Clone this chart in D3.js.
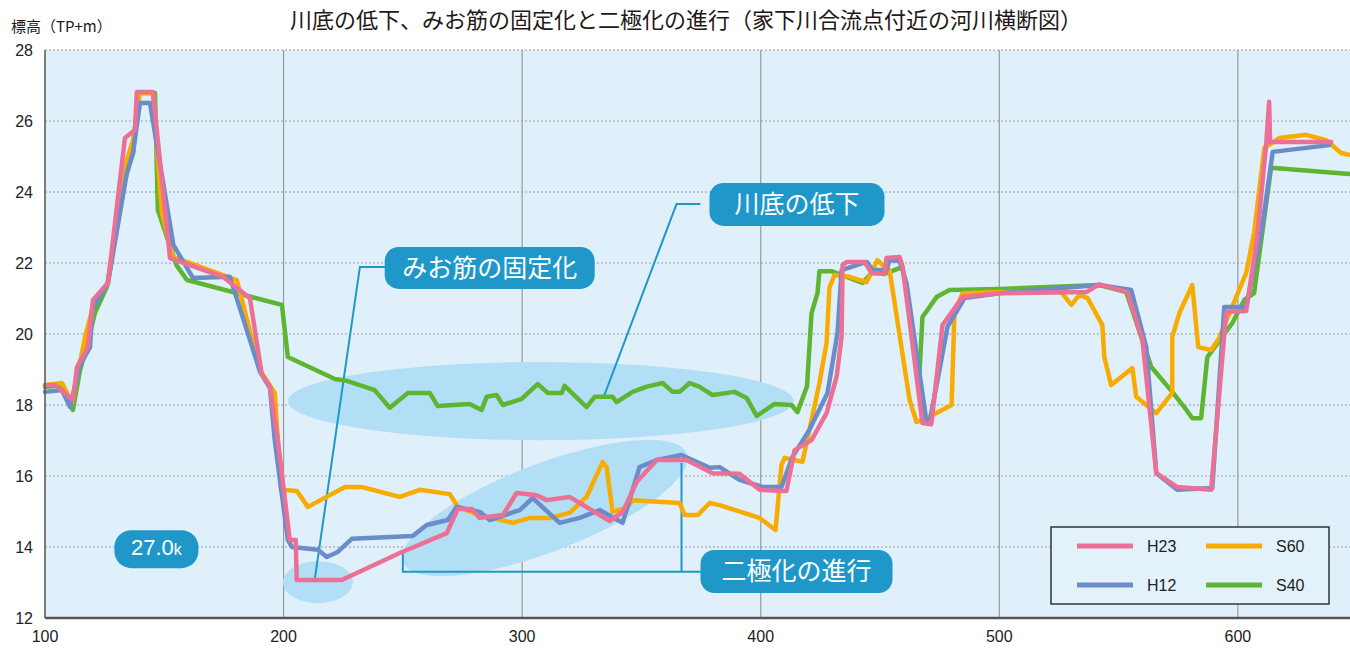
<!DOCTYPE html>
<html>
<head>
<meta charset="utf-8">
<script src="https://cdn.jsdelivr.net/npm/d3@7"></script>
<style>
  body { margin: 0; background: #fff; }
  svg { display: block; font-family: "Liberation Sans", Arial, sans-serif; }
  .jp { font-family: "Noto Sans CJK JP", sans-serif; }
</style>
</head>
<body>
<svg id="chart" width="1350" height="648"></svg>
<script>
// river cross section, distance (m) vs elevation (TP+m)
const h23 = [[100,18.56],[104.2,18.56],[111.7,18.14],[113.4,19.07],[118.0,19.63],[120.1,20.96],[126.4,21.44],[133.5,25.52],[137.7,25.75],[138.5,26.82],[145.2,26.82],[152.4,22.14],[174.6,21.61],[185.9,21.01],[190.9,18.85],[194.3,18.51],[197.6,17.01],[202.6,14.20],[205.1,14.20],[205.5,13.07],[224.4,13.07],[248.7,13.83],[268.4,14.39],[273.0,15.07],[278.9,15.07],[282.2,14.82],[291.9,14.90],[297.7,15.52],[306.1,15.46],[310.3,15.32],[319.9,15.41],[336.7,14.73],[342.2,14.99],[348.0,15.83],[356.4,16.45],[368.9,16.45],[379.8,16.08],[391.1,16.06],[399.5,15.61],[410.8,15.58],[414.2,16.73],[421.3,17.01],[427.6,17.77],[431.8,18.79],[433.9,19.92],[434.3,21.94],[436.0,22.03],[443.5,22.03],[446.5,21.72],[452.0,21.69],[452.7,22.14],[458.2,22.17],[459.5,21.89],[467.8,17.49],[471.5,17.46],[476.2,20.25],[484.6,21.04],[500.1,21.15],[536.5,21.18],[541.9,21.40],[553.7,21.18],[560.0,19.83],[565.8,16.08],[574.6,15.69],[588.8,15.61],[595.1,20.62],[603.5,20.65],[608.1,22.73],[611.9,25.38],[613.1,26.54],[613.5,25.41],[639.1,25.41]];

const h12 = [[100,18.37],[107.1,18.42],[110.5,17.94],[114.7,19.13],[118.9,19.63],[119.7,20.68],[126.4,21.44],[134.3,24.54],[136.9,25.10],[139.8,26.51],[144.0,26.51],[153.8,22.51],[162.0,21.58],[177.5,21.61],[190.1,18.94],[194.3,18.48],[196.3,17.01],[201.8,14.20],[203.5,14.0],[214.4,13.92],[218.1,13.72],[222.7,13.86],[228.6,14.23],[254.1,14.31],[260.0,14.62],[268.8,14.76],[272.6,15.13],[282.2,14.99],[286.4,14.76],[299.0,15.04],[304.4,15.38],[315.7,14.68],[324.1,14.82],[332.5,15.04],[342.1,14.68],[349.2,16.25],[356.4,16.45],[366.8,16.59],[378.6,16.23],[382.8,16.25],[391.1,15.89],[400.8,15.69],[408.7,15.69],[413.3,16.54],[420.4,17.30],[428.0,18.34],[432.2,20.03],[433.9,21.80],[444.4,22.03],[446.9,21.80],[452.7,21.80],[454.0,22.08],[458.2,22.06],[461.1,21.44],[469.5,17.52],[470.8,17.52],[478.3,20.20],[485.4,21.01],[500.1,21.15],[541.9,21.38],[555.3,21.24],[561.6,19.63],[565.8,16.08],[574.6,15.61],[589.3,15.66],[594.3,20.76],[603.5,20.76],[610.0,22.93],[614.6,25.13],[638.3,25.32]];

const s60 = [[100,18.56],[107.1,18.62],[111.3,18.06],[116.8,19.92],[120.9,20.96],[126.4,21.44],[134.3,24.90],[136.9,25.46],[139.8,26.79],[145.2,26.79],[149.0,23.41],[153.6,22.17],[180.4,21.52],[190.1,18.99],[196.3,18.34],[197.6,17.01],[198.9,15.61],[205.6,15.58],[210.2,15.13],[225.7,15.69],[232.8,15.69],[248.7,15.41],[257.1,15.61],[269.7,15.49],[273.0,15.13],[282.2,14.90],[296.1,14.68],[303.2,14.82],[311.5,14.82],[319.9,14.96],[327.0,15.41],[333.7,16.39],[335.4,16.25],[337.9,14.99],[343.8,15.10],[346.3,15.32],[366.0,15.24],[368.1,14.90],[373.6,14.90],[378.6,15.24],[382.8,15.18],[399.5,14.82],[406.2,14.48],[408.7,16.31],[410.0,16.51],[417.5,16.40],[421.3,17.58],[424.6,18.62],[427.6,19.75],[428.8,21.30],[430.9,21.66],[437.2,21.61],[444.3,21.46],[448.9,22.08],[451.9,21.89],[454.0,21.80],[462.4,18.14],[465.3,17.52],[469.5,17.63],[480.0,18.0],[481.2,20.59],[484.6,21.15],[500.1,21.18],[526.0,21.18],[530.2,20.82],[533.6,21.10],[537.0,21.01],[543.2,20.25],[544.0,19.35],[546.9,18.56],[555.8,19.04],[557.4,18.23],[565.8,17.77],[572.5,18.34],[572.5,19.92],[575.5,20.59],[580.9,21.38],[583.4,19.63],[588.8,19.55],[592.2,19.89],[603.5,21.72],[606.8,22.85],[611.1,25.24],[617.3,25.52],[628.6,25.61],[637.0,25.46],[643.3,25.10],[647,25.04]];

const s40 = [[100,18.51],[107.1,18.56],[111.7,17.86],[114.7,18.99],[118.0,19.75],[120.9,20.59],[125.9,21.32],[133.5,24.34],[136.9,25.10],[139.0,26.79],[146.1,26.79],[147.3,23.49],[155.1,21.94],[159.5,21.52],[199.3,20.82],[201.8,19.35],[221.5,18.73],[226.5,18.68],[238.2,18.42],[244.5,17.92],[252.1,18.34],[261.3,18.34],[264.6,17.97],[278.0,18.03],[283.0,17.86],[285.1,18.23],[289.3,18.28],[291.9,18.0],[299.8,18.17],[306.5,18.59],[310.7,18.34],[316.6,18.34],[317.8,18.54],[327.0,17.94],[330.4,18.23],[337.9,18.23],[339.6,18.08],[346.3,18.37],[351.9,18.51],[358.9,18.62],[363.1,18.37],[366.0,18.37],[370.2,18.62],[374.4,18.51],[379.8,18.28],[389.0,18.37],[394.1,18.20],[398.3,17.69],[405.8,18.03],[412.9,18.0],[415.4,17.80],[419.4,18.53],[421.3,20.59],[423.8,21.15],[424.6,21.77],[429.6,21.77],[442.7,21.44],[446.5,21.72],[453.2,21.72],[459.4,21.89],[466.5,18.85],[467.8,20.48],[473.7,21.04],[479.1,21.24],[500.1,21.27],[541.9,21.38],[553.2,21.18],[563.7,19.07],[572.5,18.37],[578.4,17.86],[580.9,17.63],[584.6,17.63],[587.2,19.35],[597.7,20.31],[602.7,20.96],[606.8,21.15],[613.9,24.68],[646.7,24.51]];

const seriesNames = ["S40", "S60", "H12", "H23"];
const seriesData = { H23: h23, H12: h12, S60: s60, S40: s40 };
const colors = { H23: "#ec7095", H12: "#6a8dc9", S60: "#f8ab00", S40: "#5db531" };

const xTicks = [100, 200, 300, 400, 500, 600];
const yTicks = [12, 14, 16, 18, 20, 22, 24, 26, 28];

const title = "川底の低下、みお筋の固定化と二極化の進行（家下川合流点付近の河川横断図）";
const yTitle = "標高（TP+m）";

var svg = d3.select("#chart");
var x = d3.scaleLinear().domain([100, 647]).range([45, 1350]);
var y = d3.scaleLinear().domain([12, 28]).range([618, 50]);

// plot background
svg.append("rect")
    .attr("x", x(100)).attr("y", y(28))
    .attr("width", x(647) - x(100)).attr("height", y(12) - y(28))
    .attr("fill", "#dff0fa");

// grid
svg.append("g").selectAll("line")
    .data(yTicks.filter(d => d > 12))
    .join("line")
    .attr("x1", x(100)).attr("x2", x(647))
    .attr("y1", d => y(d)).attr("y2", d => y(d))
    .attr("stroke", "#9a9a9a").attr("stroke-width", 1)
    .attr("stroke-dasharray", "2,2");

svg.append("g").selectAll("line")
    .data(xTicks.filter(d => d > 100))
    .join("line")
    .attr("x1", d => x(d)).attr("x2", d => x(d))
    .attr("y1", y(28)).attr("y2", y(12))
    .attr("stroke", "#9a9a9a").attr("stroke-width", 1.2);

// highlight ellipses
var shade = svg.append("g").attr("fill", "#b3dff6");
shade.append("ellipse")
    .attr("cx", x(307.8)).attr("cy", y(18.11))
    .attr("rx", x(307.8 + 106) - x(307.8)).attr("ry", y(18.11 - 1.1) - y(18.11));
shade.append("ellipse")
    .attr("transform", "translate(" + x(309.5) + "," + y(15.1) + ") rotate(-21)")
    .attr("rx", 152).attr("ry", 44);
shade.append("ellipse")
    .attr("cx", x(214.4)).attr("cy", y(13.01))
    .attr("rx", 35).attr("ry", 21);

// leader lines
var leaderColor = "#1f98c9";
var leader = d3.line().x(d => x(d[0])).y(d => y(d[1]));
var leaders = [
    [[374.7, 23.66], [364.7, 23.66], [334.2, 18.23]],
    [[243.0, 21.89], [232.0, 21.89], [213.1, 13.10]],
    [[250.0, 13.86], [250.0, 13.30], [376, 13.30]],
    [[366.8, 16.37], [366.8, 13.30]]
];
svg.append("g").selectAll("path")
    .data(leaders)
    .join("path")
    .attr("d", leader)
    .attr("fill", "none")
    .attr("stroke", leaderColor)
    .attr("stroke-width", 2);

// series lines
var line = d3.line().x(d => x(d[0])).y(d => y(d[1]));
svg.append("g").selectAll("path")
    .data(seriesNames)
    .join("path")
    .attr("d", d => line(seriesData[d]))
    .attr("fill", "none")
    .attr("stroke", d => colors[d])
    .attr("stroke-width", 4.5)
    .attr("stroke-linejoin", "round")
    .attr("stroke-linecap", "round");

// callout labels
var labels = [
    { text: "川底の低下", cx: 415.2, cy: 23.65, w: 175, h: 43 },
    { text: "みお筋の固定化", cx: 286.4, cy: 21.86, w: 210, h: 42 },
    { text: "二極化の進行", cx: 415.0, cy: 13.31, w: 192, h: 43 }
];
var lab = svg.append("g").selectAll("g")
    .data(labels)
    .join("g")
    .attr("transform", d => "translate(" + x(d.cx) + "," + y(d.cy) + ")");
lab.append("rect")
    .attr("x", d => -d.w / 2).attr("y", d => -d.h / 2)
    .attr("width", d => d.w).attr("height", d => d.h)
    .attr("rx", 14)
    .attr("fill", leaderColor);
lab.append("text")
    .attr("class", "jp")
    .attr("text-anchor", "middle")
    .attr("dy", "0.36em")
    .attr("fill", "#fff")
    .style("font-size", "25px")
    .text(d => d.text);

// section label
var sec = svg.append("g").attr("transform", "translate(" + x(146.7) + "," + y(13.94) + ")");
sec.append("rect")
    .attr("x", -42).attr("y", -19).attr("width", 84).attr("height", 38)
    .attr("rx", 17).attr("fill", leaderColor);
var secText = sec.append("text")
    .attr("text-anchor", "middle").attr("dy", "0.36em")
    .attr("fill", "#fff");
secText.append("tspan").style("font-size", "22px").text("27.0");
secText.append("tspan").style("font-size", "16px").text("k");

// axes
svg.append("line")
    .attr("x1", x(100)).attr("x2", x(100))
    .attr("y1", y(28)).attr("y2", y(12))
    .attr("stroke", "#555").attr("stroke-width", 1.5);
svg.append("line")
    .attr("x1", x(100)).attr("x2", x(647))
    .attr("y1", y(12)).attr("y2", y(12))
    .attr("stroke", "#555").attr("stroke-width", 2.5);

svg.append("g").selectAll("text")
    .data(yTicks)
    .join("text")
    .attr("x", 33).attr("y", d => y(d))
    .attr("dy", "0.36em")
    .attr("text-anchor", "end")
    .attr("fill", "#222")
    .style("font-size", "16px")
    .text(d => d);

svg.append("g").selectAll("text")
    .data(xTicks)
    .join("text")
    .attr("x", d => x(d)).attr("y", 642)
    .attr("text-anchor", "middle")
    .attr("fill", "#222")
    .style("font-size", "16px")
    .text(d => d);

// titles
svg.append("text")
    .attr("class", "jp")
    .attr("x", 686).attr("y", 28)
    .attr("text-anchor", "middle")
    .attr("fill", "#231815")
    .style("font-size", "22px")
    .text(title);
svg.append("text")
    .attr("class", "jp")
    .attr("x", 11).attr("y", 32)
    .attr("fill", "#231815")
    .style("font-size", "15px")
    .text(yTitle);

// legend
var legend = svg.append("g").attr("transform", "translate(1051,527)");
legend.append("rect")
    .attr("width", 278).attr("height", 77)
    .attr("fill", "#e2f1fa")
    .attr("stroke", "#333").attr("stroke-width", 1.5);
var legendItems = [
    { name: "H23", col: 0, row: 0 },
    { name: "S60", col: 1, row: 0 },
    { name: "H12", col: 0, row: 1 },
    { name: "S40", col: 1, row: 1 }
];
var li = legend.selectAll("g.item")
    .data(legendItems)
    .join("g")
    .attr("class", "item")
    .attr("transform", d => "translate(" + (26 + d.col * 129) + "," + (19 + d.row * 39) + ")");
li.append("line")
    .attr("x1", 0).attr("x2", 56)
    .attr("stroke", d => colors[d.name])
    .attr("stroke-width", 5);
li.append("text")
    .attr("x", 70).attr("dy", "0.36em")
    .attr("fill", "#222")
    .style("font-size", "16px")
    .text(d => d.name);
</script>
</body>
</html>
